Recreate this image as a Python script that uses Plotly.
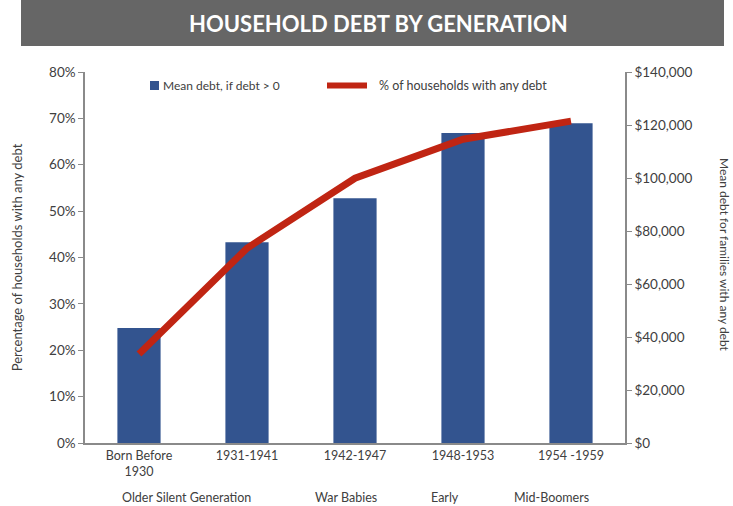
import plotly.graph_objects as go

# Birth cohorts on the category axis
cohorts = ["Born Before<br>1930", "1931-1941", "1942-1947", "1948-1953", "1954 -1959"]
# Mean debt for families that hold any debt (USD)
mean_debt = [43400, 75800, 92400, 117000, 120700]
# Share of households with any debt (%)
pct_with_debt = [19.2, 42.0, 57.1, 65.5, 69.4]
# Generation names printed under the cohorts
generation_names = ["Older Silent Generation", "War Babies", "Early", "Mid-Boomers"]
generation_pos = [0.44, 1.92, 2.83, 3.82]

W, H = 733, 506
L, R, T, B = 85, 108, 72, 63
pw, ph = W - L - R, H - T - B

def px_x(x):
    return (x - L) / pw

def px_y(y):
    return (H - B - y) / ph

BAR = "#33548f"
LINE = "#c02513"
AXIS = "#8a8a8a"
TXT = "#404040"
FONT = "Lato"

fig = go.Figure()
# bars use the dollar axis (drawn first), the line sits on the overlaying % axis
fig.add_trace(go.Bar(
    x=cohorts, y=mean_debt, yaxis="y", name="Mean debt, if debt > 0",
    marker=dict(color=BAR, line=dict(width=0)), width=0.4,
))
fig.add_trace(go.Scatter(
    x=cohorts, y=pct_with_debt, yaxis="y2", mode="lines",
    name="% of households with any debt",
    line=dict(color=LINE, width=7),
))

fig.update_layout(
    width=W, height=H,
    margin=dict(l=L, r=R, t=T, b=B, autoexpand=False),
    paper_bgcolor="white", plot_bgcolor="white",
    font=dict(family=FONT, size=13, color=TXT),
    showlegend=False,
    xaxis=dict(
        type="category", showline=True, linecolor=AXIS, linewidth=1.5,
        ticks="", showgrid=False, tickfont=dict(size=12.5, color=TXT),
        range=[-0.5, 4.5],
    ),
    yaxis=dict(
        side="right", range=[0, 140000],
        tickvals=list(range(0, 140001, 20000)),
        ticktext=["$0"] + [f"${v:,}" for v in range(20000, 140001, 20000)],
        showline=True, linecolor=AXIS, linewidth=1.5, ticks="outside",
        ticklen=5, tickcolor=AXIS, showgrid=False, zeroline=False,
        tickfont=dict(size=13.5, color=TXT),
    ),
    yaxis2=dict(
        overlaying="y", side="left",
        range=[0, 80], tickvals=list(range(0, 81, 10)),
        ticktext=[f"{v}%" for v in range(0, 81, 10)],
        showline=True, linecolor=AXIS, linewidth=1.5, ticks="outside",
        ticklen=5, tickcolor=AXIS, showgrid=False, zeroline=False,
        tickfont=dict(size=13.5, color=TXT),
        title=dict(text="Percentage of households with any debt",
                   font=dict(size=13, color=TXT), standoff=24),
    ),
    bargap=0.6,
)

shapes = [
    # grey title band
    dict(type="rect", xref="paper", yref="paper",
         x0=px_x(21), x1=px_x(724), y0=px_y(46), y1=px_y(0),
         fillcolor="#666666", line=dict(width=0), layer="above"),
    # legend swatches
    dict(type="rect", xref="paper", yref="paper",
         x0=px_x(150), x1=px_x(159), y0=px_y(90), y1=px_y(81),
         fillcolor=BAR, line=dict(width=0)),
    dict(type="line", xref="paper", yref="paper",
         x0=px_x(327), x1=px_x(367), y0=px_y(85.5), y1=px_y(85.5),
         line=dict(color=LINE, width=6)),
]

annotations = [
    dict(text="<b>HOUSEHOLD DEBT BY GENERATION</b>", xref="paper", yref="paper",
         x=px_x(378), y=px_y(23), showarrow=False,
         font=dict(family=FONT, size=22, color="white"),
         xanchor="center", yanchor="middle"),
    dict(text="Mean debt, if debt > 0", xref="paper", yref="paper",
         x=px_x(161), y=px_y(85.5), showarrow=False, xanchor="left",
         yanchor="middle", font=dict(size=12, color=TXT)),
    dict(text="% of households with any debt", xref="paper", yref="paper",
         x=px_x(377), y=px_y(85.5), showarrow=False, xanchor="left",
         yanchor="middle", font=dict(size=12.5, color=TXT)),
    dict(text="Mean debt for families with any debt", xref="paper", yref="paper",
         x=px_x(725), y=px_y(255), showarrow=False, textangle=90,
         xanchor="center", yanchor="middle", font=dict(size=12, color=TXT)),
]
for name, pos in zip(generation_names, generation_pos):
    annotations.append(dict(
        text=name, xref="x", yref="paper", x=pos, y=px_y(497),
        showarrow=False, xanchor="center", yanchor="middle",
        font=dict(size=12.5, color=TXT)))

fig.update_layout(shapes=shapes, annotations=annotations)
fig.write_html("out.html")
